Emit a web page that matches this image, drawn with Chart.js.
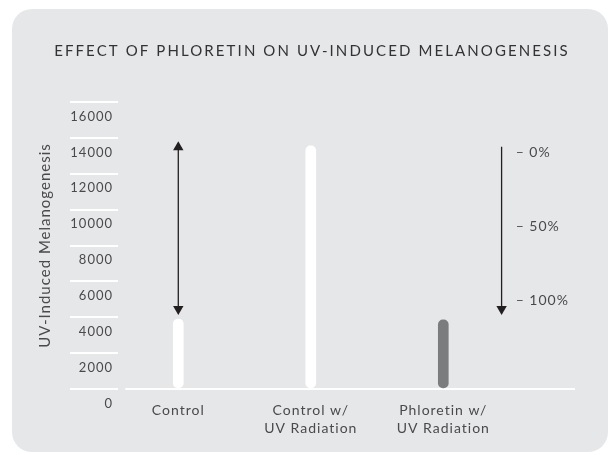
<!DOCTYPE html>
<html>
<head>
<meta charset="utf-8">
<script src="https://cdn.jsdelivr.net/npm/chart.js@4"></script>
<style>
  html, body { margin: 0; padding: 0; background: #fff; }
  #wrap { position: relative; width: 608px; height: 455px; overflow: hidden; }
  #panel { position: absolute; left: 12px; top: 9px; width: 596px; height: 443px; background: #e6e7e9; border-radius: 20px; }
  #chart { position: absolute; left: 0; top: 0; }
</style>
</head>
<body>
<div id="wrap">
  <div id="panel"></div>
  <canvas id="chart" width="608" height="455"></canvas>
</div>
<script>
// chart data
const titleText = 'EFFECT OF PHLORETIN ON UV-INDUCED MELANOGENESIS';
const yAxisTitle = 'UV-Induced Melanogenesis';
const categories = ['Control', ['Control w/', 'UV Radiation'], ['Phloretin w/', 'UV Radiation']];
const categoryPos = [1, 2, 3];
const barValues = [3900, 13550, 3850];
const barColors = ['#ffffff', '#ffffff', '#7b7c7e'];
const yTicks = [0, 2000, 4000, 6000, 8000, 10000, 12000, 14000, 16000];

// arrows: double arrow over Control, reduction arrow on the right
const leftArrowX = 1;
const leftArrowY = [13480, 4460];
const rightArrowX = 3.44;
const rightArrowY = [13500, 4460];
const pctX = 3.546;
const pctLabels = ['0%', '50%', '100%'];
const pctValues = [13160, 9040, 4960];

const textColor = '#4a4a4c';
Chart.defaults.font.family = "Lato, 'Open Sans', sans-serif";

const decor = {
  id: 'decor',
  beforeLayout(chart) { chart.ctx.letterSpacing = '1px'; },
  beforeDraw(chart) { chart.ctx.letterSpacing = '1px'; },
  beforeDatasetsDraw(chart) {
    const { ctx, chartArea, scales } = chart;
    const y0 = scales.y.getPixelForValue(0);
    ctx.save();
    ctx.strokeStyle = '#ffffff';
    ctx.lineWidth = 2;
    ctx.beginPath();
    ctx.moveTo(scales.x.getPixelForValue(0.6), y0);
    ctx.lineTo(chartArea.right, y0);
    ctx.stroke();
    ctx.restore();
  },
  afterDraw(chart) {
    const { ctx, scales } = chart;
    ctx.save();
    // title
    ctx.letterSpacing = '2.1px';
    ctx.font = '15px Lato';
    ctx.fillStyle = '#333335';
    ctx.textAlign = 'center';
    ctx.textBaseline = 'alphabetic';
    ctx.fillText(titleText, 312, 56);
    // percent labels
    ctx.letterSpacing = '1px';
    ctx.font = '14px Lato';
    ctx.fillStyle = textColor;
    ctx.textAlign = 'left';
    ctx.textBaseline = 'middle';
    const px = scales.x.getPixelForValue(pctX);
    pctLabels.forEach((lab, i) => {
      ctx.fillText('\u2013 ' + lab, px, scales.y.getPixelForValue(pctValues[i]));
    });
    ctx.restore();
  }
};

new Chart(document.getElementById('chart'), {
  type: 'bar',
  data: {
    datasets: [
      {
        type: 'line',
        data: leftArrowY.map(v => ({ x: leftArrowX, y: v })),
        borderColor: '#231f20',
        borderWidth: 1.3,
        pointStyle: 'triangle',
        pointRadius: 6,
        pointRotation: [0, 180],
        pointBackgroundColor: '#231f20',
        pointBorderWidth: 0
      },
      {
        type: 'line',
        data: rightArrowY.map(v => ({ x: rightArrowX, y: v })),
        borderColor: '#231f20',
        borderWidth: 1.3,
        pointStyle: 'triangle',
        pointRadius: [0, 6],
        pointRotation: [0, 180],
        pointBackgroundColor: '#231f20',
        pointBorderWidth: 0
      },
      {
        data: categoryPos.map((x, i) => ({ x: x, y: barValues[i] })),
        backgroundColor: barColors,
        barThickness: 10,
        borderRadius: 5,
        borderSkipped: false
      }
    ]
  },
  options: {
    responsive: false,
    animation: false,
    layout: { padding: { top: 102, right: 33, bottom: 0, left: 0 } },
    plugins: {
      legend: { display: false },
      tooltip: { enabled: false }
    },
    scales: {
      x: {
        type: 'linear',
        offset: false,
        min: 0.545,
        max: 3.994,
        grid: { display: false, drawTicks: false, offset: false },
        border: { display: false },
        afterBuildTicks: axis => { axis.ticks = categoryPos.map(v => ({ value: v })); },
        afterFit: axis => {
          axis.height = 66;
          axis.paddingLeft = 0;
          axis.paddingRight = 0;
        },
        ticks: {
          autoSkip: false,
          maxRotation: 0,
          padding: 12,
          color: textColor,
          font: { size: 14, lineHeight: 1.33 },
          callback: value => categories[categoryPos.indexOf(value)]
        }
      },
      y: {
        min: 0,
        max: 16000,
        afterBuildTicks: axis => { axis.ticks = yTicks.map(v => ({ value: v })); },
        afterFit: axis => { axis.width = 118; },
        grid: { drawOnChartArea: false, color: '#ffffff', lineWidth: 2, tickLength: 48 },
        border: { display: false },
        ticks: {
          padding: -43,
          labelOffset: 14.5,
          color: textColor,
          font: { size: 13 },
          callback: value => String(value)
        },
        title: {
          display: true,
          text: yAxisTitle,
          color: textColor,
          font: { size: 15 },
          padding: { top: 36, bottom: 0 }
        }
      }
    }
  },
  plugins: [decor]
});
</script>
</body>
</html>
